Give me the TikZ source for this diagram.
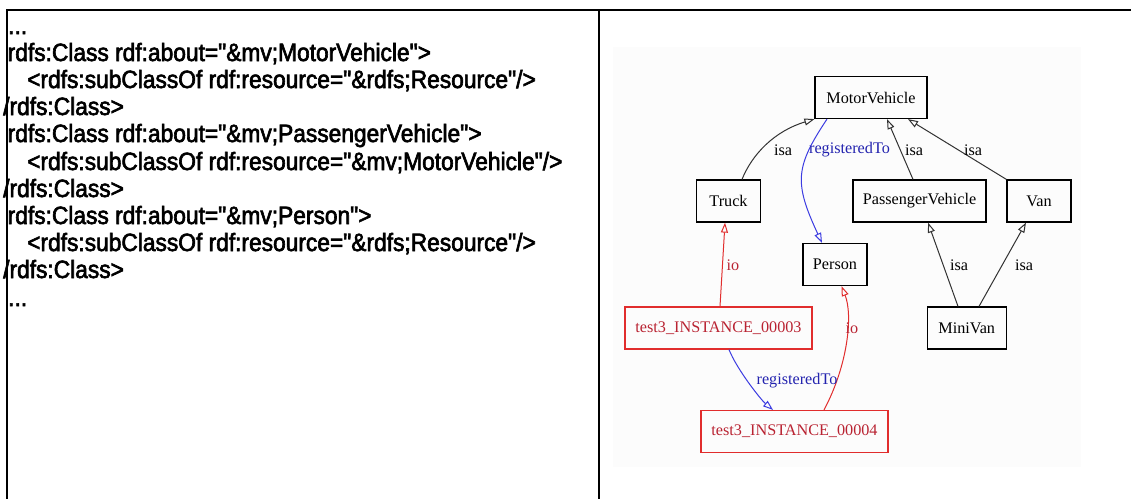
\documentclass[tikz,border=0pt]{standalone}
\usepackage{fontspec}
\setmainfont{Liberation Serif}
\newfontfamily\codefont[FakeStretch=0.91,FakeBold=2.5]{Liberation Sans}
\usetikzlibrary{arrows.meta}
\definecolor{redline}{RGB}{225,45,45}
\definecolor{redtext}{RGB}{185,35,50}
\definecolor{blueline}{RGB}{60,60,225}
\definecolor{bluetext}{RGB}{35,35,175}
\definecolor{grayline}{RGB}{50,50,50}
\definecolor{panelbg}{RGB}{252,252,252}
\begin{document}
\begin{tikzpicture}[x=1pt,y=-1pt,
  cls/.style={draw=black,line width=1.2pt,minimum height=42pt,inner sep=0pt,font=\fontsize{16.2}{19}\selectfont},
  inst/.style={cls,draw=redline,text=redtext},
  tip/.style={-{Triangle[open,length=10pt,width=7pt]}},
  isaedge/.style={draw=grayline,line width=1pt,tip},
  ioedge/.style={draw=redline,line width=1pt,tip},
  regedge/.style={draw=blueline,line width=1pt,tip},
  lbl/.style={font=\fontsize{16.2}{19}\selectfont,inner sep=0pt},
  codeline/.style={anchor=base west,inner sep=0pt,font=\codefont\fontsize{25}{27}\selectfont},
  frame/.style={line width=2pt,black}
]
\useasboundingbox (0,0) rectangle (1131,499);
\fill[panelbg] (613,47) rectangle (1081,467);

% ---- code text ----
\node[codeline] (c0) at (8,34) {...};
\node[codeline] (c1) at (7.5,61) {rdfs:Class rdf:about="\&mv;MotorVehicle">};
\node[codeline] (c2) at (27,88) {<rdfs:subClassOf rdf:resource="\&rdfs;Resource"/>};
\node[codeline] (c3) at (3,115) {/rdfs:Class>};
\node[codeline] (c4) at (7.5,142) {rdfs:Class rdf:about="\&mv;PassengerVehicle">};
\node[codeline] (c5) at (27,170) {<rdfs:subClassOf rdf:resource="\&mv;MotorVehicle"/>};
\node[codeline] (c6) at (3,197) {/rdfs:Class>};
\node[codeline] (c7) at (7.5,224) {rdfs:Class rdf:about="\&mv;Person">};
\node[codeline] (c8) at (27,251) {<rdfs:subClassOf rdf:resource="\&rdfs;Resource"/>};
\node[codeline] (c9) at (3,278) {/rdfs:Class>};
\node[codeline] (c10) at (8,306) {...};

% ---- frame ----
\draw[frame] (7,10) -- (1131,10);
\draw[frame] (7,9) -- (7,499);
\draw[frame] (599,10) -- (599,499);

% ---- graph nodes ----
\node[cls,minimum width=112pt] (mv) at (871,97.5) {MotorVehicle};
\node[cls,minimum width=64pt] (truck) at (728.5,201) {Truck};
\node[cls,minimum width=133pt] (pv) at (919.5,201) {PassengerVehicle};
\node[cls,minimum width=64pt] (van) at (1039,201) {Van};
\node[cls,minimum width=64pt] (person) at (835,264.5) {Person};
\node[cls,minimum width=79pt] (minivan) at (966.7,328) {MiniVan};
\node[inst,minimum width=187pt] (t3) at (718.5,328) {test3\_INSTANCE\_00003};
\node[inst,minimum width=187pt] (t4) at (794.5,431.5) {test3\_INSTANCE\_00004};

% ---- edges ----
\draw[isaedge] ([xshift=13.5pt]truck.north) .. controls +(10,-25) and +(-40,12) .. (mv.south west);
\draw[regedge] ([xshift=-44pt]mv.south) .. controls +(-32,48) and +(-28,-60) .. ([xshift=-13pt]person.north);
\draw[isaedge] ([xshift=-6.5pt]pv.north) -- ([xshift=16pt]mv.south);
\draw[isaedge] (van.north west) -- ([xshift=37pt]mv.south);
\draw[isaedge] ([xshift=-8.7pt]minivan.north) -- ([xshift=8.5pt]pv.south);
\draw[isaedge] ([xshift=12.3pt]minivan.north) -- ([xshift=-13pt]van.south);
\draw[ioedge] ([xshift=1.5pt]t3.north) -- ([xshift=-3.5pt]truck.south);
\draw[regedge] ([xshift=10.5pt]t3.south) .. controls +(8,20) and +(-12,-10) .. ([xshift=-21.5pt]t4.north);
\draw[ioedge] ([xshift=29.5pt]t4.north) .. controls +(24,-45) and +(11.5,29) .. ([xshift=6.5pt]person.south);

% ---- edge labels ----
\node[lbl] (l1) at (783,150) {isa};
\node[lbl,text=bluetext] (l2) at (849.5,150) {registeredTo};
\node[lbl] (l3) at (914,150) {isa};
\node[lbl] (l4) at (973,150) {isa};
\node[lbl] (l5) at (959,265) {isa};
\node[lbl] (l6) at (1024,265) {isa};
\node[lbl,text=redtext] (l7) at (733,265) {io};
\node[lbl,text=bluetext] (l8) at (797,381) {registeredTo};
\node[lbl,text=redtext] (l9) at (852,328) {io};
\end{tikzpicture}
\end{document}
